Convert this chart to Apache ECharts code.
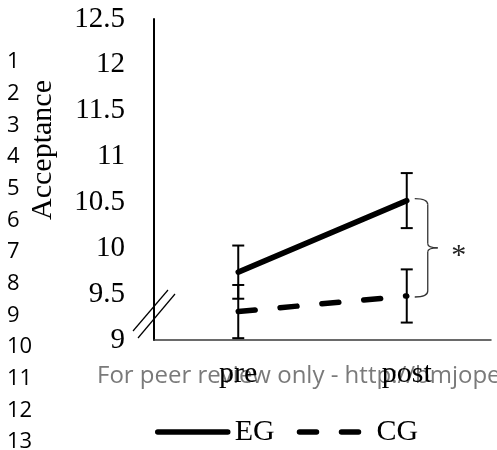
<!DOCTYPE html>
<html>
<head>
<meta charset="utf-8">
<script src="https://cdn.jsdelivr.net/npm/echarts@6/dist/echarts.min.js"></script>
<style>
  html, body { margin: 0; padding: 0; background: #fff; }
  #chart { width: 497px; height: 450px; }
</style>
</head>
<body>
<div id="chart"></div>
<script>
// Time points on the x axis
const timePoints = ['pre', 'post'];
// Group means of the acceptance score
const egMeans = [9.74, 10.52];
const cgMeans = [9.31, 9.48];
// Error (± half-length of the error bars)
const egErrors = [0.29, 0.30];
const cgErrors = [0.29, 0.29];
// Y axis range and step
const yMin = 9;
const yMax = 12.5;
const yStep = 0.5;
// Manuscript line numbers in the margin
const lineNumbers = ['1','2','3','4','5','6','7','8','9','10','11','12','13'];
const watermark = 'For peer review only - http://bmjopen.bmj.com/site/about/guidelines.xhtml';

const SERIF = '"Liberation Serif", "Times New Roman", serif';
const SANS = '"Open Sans", "Noto Sans", sans-serif';

const chart = echarts.init(document.getElementById('chart'), null, { renderer: 'canvas' });

function errorData(means, errs) {
  return means.map((m, i) => [i, m - errs[i], m + errs[i]]);
}

function renderErrorBar(params, api) {
  const x = api.value(0);
  const lo = api.coord([x, api.value(1)]);
  const hi = api.coord([x, api.value(2)]);
  const half = 6;
  const style = { stroke: '#000', lineWidth: 2, fill: null };
  return {
    type: 'group',
    children: [
      { type: 'line', shape: { x1: hi[0], y1: hi[1], x2: lo[0], y2: lo[1] }, style },
      { type: 'line', shape: { x1: hi[0] - half, y1: hi[1], x2: hi[0] + half, y2: hi[1] }, style },
      { type: 'line', shape: { x1: lo[0] - half, y1: lo[1], x2: lo[0] + half, y2: lo[1] }, style }
    ]
  };
}

const option = {
  animation: false,
  grid: { left: 154, right: 6, top: 19, bottom: 110, containLabel: false },
  xAxis: {
    type: 'category',
    data: timePoints,
    boundaryGap: true,
    axisLine: { show: true, lineStyle: { color: '#3a3a3a', width: 1.5 } },
    axisTick: { show: false },
    axisLabel: { fontFamily: SERIF, fontSize: 30, color: '#000', margin: 19 },
    splitLine: { show: false }
  },
  yAxis: {
    type: 'value',
    min: yMin,
    max: yMax,
    interval: yStep,
    axisLine: { show: true, lineStyle: { color: '#000', width: 2 } },
    axisTick: { show: false },
    splitLine: { show: false },
    axisLabel: { fontFamily: SERIF, fontSize: 29, color: '#000', margin: 29 }
  },
  legend: {
    left: 155,
    top: 417,
    padding: 0,
    itemWidth: 70,
    itemHeight: 14,
    itemGap: 22,
    itemStyle: { opacity: 0 },
    lineStyle: { width: 5.5, color: '#000' },
    textStyle: { fontFamily: SERIF, fontSize: 30, color: '#000', padding: [0, 0, 0, 2] },
    data: ['EG', 'CG']
  },
  series: [
    {
      name: 'EG',
      type: 'line',
      data: egMeans,
      symbol: 'none',
      z: 3,
      itemStyle: { color: '#000' },
      lineStyle: { color: '#000', width: 5.5, cap: 'round' }
    },
    {
      name: 'CG',
      type: 'line',
      data: cgMeans,
      symbol: 'none',
      z: 3,
      itemStyle: { color: '#000' },
      lineStyle: { color: '#000', width: 5.5, type: [17, 25], cap: 'round' }
    },
    {
      name: 'EG error',
      type: 'custom',
      renderItem: renderErrorBar,
      data: errorData(egMeans, egErrors),
      z: 4
    },
    {
      name: 'CG error',
      type: 'custom',
      renderItem: renderErrorBar,
      data: errorData(cgMeans, cgErrors),
      z: 4
    }
  ]
};

chart.setOption(option);

// Decorations placed from the axes' own scales
const axisLeft = chart.convertToPixel({ gridIndex: 0 }, [0, yMin])[0] - chart.convertToPixel({ xAxisIndex: 0 }, 0) + 154;
const axisBottomY = chart.convertToPixel({ yAxisIndex: 0 }, yMin);
const postX = chart.convertToPixel({ xAxisIndex: 0 }, 1);
const egPostY = chart.convertToPixel({ yAxisIndex: 0 }, egMeans[1]);
const cgPostY = chart.convertToPixel({ yAxisIndex: 0 }, cgMeans[1]);

// curly brace "}" between the two post means
const bx0 = postX + 8, bx1 = postX + 21, tipX = postX + 31;
const braceTop = egPostY - 2, braceBot = cgPostY + 1, braceMid = (braceTop + braceBot) / 2;
const braceStyle = { fill: null, stroke: '#333', lineWidth: 1.3 };
const braceParts = [
  { type: 'bezierCurve', shape: { x1: bx0, y1: braceTop, cpx1: bx1, cpy1: braceTop, x2: bx1, y2: braceTop + 6 } },
  { type: 'line', shape: { x1: bx1, y1: braceTop + 6, x2: bx1, y2: braceMid - 4 } },
  { type: 'bezierCurve', shape: { x1: bx1, y1: braceMid - 4, cpx1: bx1, cpy1: braceMid, x2: tipX, y2: braceMid } },
  { type: 'bezierCurve', shape: { x1: tipX, y1: braceMid, cpx1: bx1, cpy1: braceMid, x2: bx1, y2: braceMid + 4 } },
  { type: 'line', shape: { x1: bx1, y1: braceMid + 4, x2: bx1, y2: braceBot - 6 } },
  { type: 'bezierCurve', shape: { x1: bx1, y1: braceBot - 6, cpx1: bx1, cpy1: braceBot, x2: bx0, y2: braceBot } }
].map(p => Object.assign(p, { style: braceStyle }));

const graphics = [
  { type: 'group', children: braceParts },
  {
    type: 'text',
    x: tipX + 21, y: braceMid + 8,
    style: { text: '*', font: '30px ' + SERIF, fill: '#222', align: 'center', verticalAlign: 'middle' }
  },
  // axis break marks on the value axis
  {
    type: 'line',
    shape: { x1: axisLeft - 21, y1: axisBottomY - 9, x2: axisLeft + 14, y2: axisBottomY - 50 },
    style: { stroke: '#000', lineWidth: 1.2 }
  },
  {
    type: 'line',
    shape: { x1: axisLeft - 16, y1: axisBottomY - 2, x2: axisLeft + 21, y2: axisBottomY - 46 },
    style: { stroke: '#000', lineWidth: 1.2 }
  },
  // y axis title
  {
    type: 'text',
    x: 43, y: 150,
    rotation: Math.PI / 2,
    style: { text: 'Acceptance', font: '30px ' + SERIF, fill: '#000', align: 'center', verticalAlign: 'middle' }
  },
  // running footer text
  {
    type: 'text',
    x: 97, y: 376, z: -1,
    style: { text: watermark, font: '24px ' + SANS, fill: '#7a7a7a', align: 'left', verticalAlign: 'middle' }
  }
];

lineNumbers.forEach((n, i) => {
  graphics.push({
    type: 'text',
    x: 7, y: 62 + i * 31.67,
    style: { text: n, font: '22px ' + SANS, fill: '#000', align: 'left', verticalAlign: 'middle' }
  });
});

chart.setOption({ graphic: graphics });
</script>
</body>
</html>
